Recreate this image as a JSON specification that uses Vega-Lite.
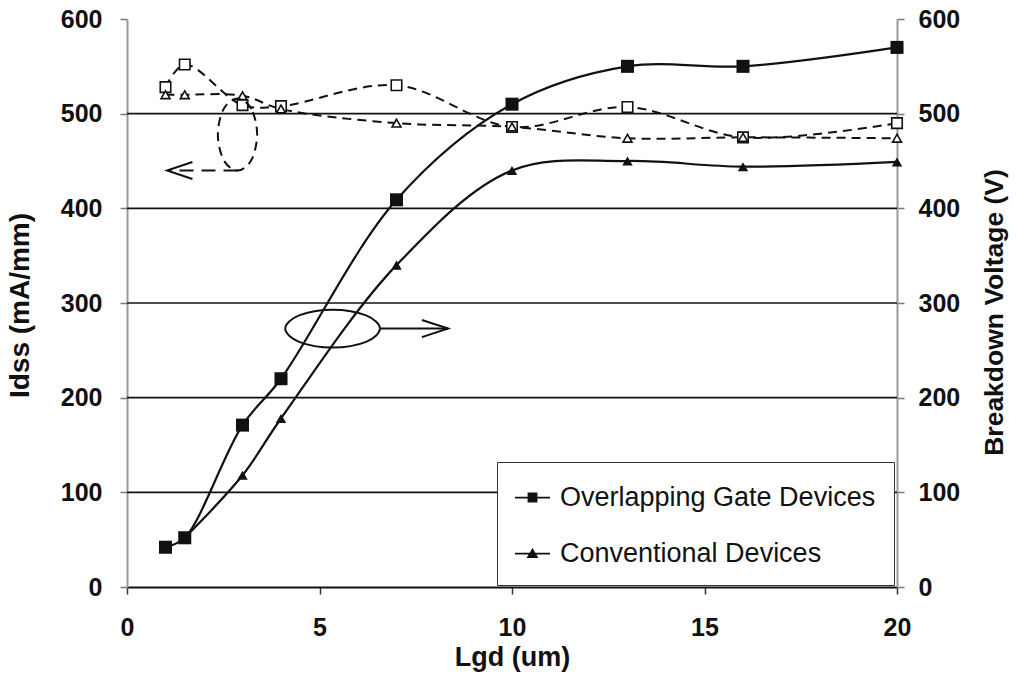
{
  "$schema": "https://vega.github.io/schema/vega-lite/v6.json",
  "width": 770,
  "height": 568,
  "autosize": {"type": "none"},
  "padding": {"left": 127, "top": 19, "right": 119, "bottom": 94},
  "background": "white",
  "config": {
    "view": {"stroke": null},
    "font": "Liberation Sans",
    "axis": {
      "labelFont": "Liberation Sans",
      "labelFontWeight": "bold",
      "labelFontSize": 25,
      "labelColor": "#111",
      "titleFont": "Liberation Sans",
      "titleFontWeight": "bold",
      "titleFontSize": 27,
      "titleColor": "#111",
      "grid": false,
      "tickSize": 7,
      "tickWidth": 1.5
    }
  },
  "datasets": {
    "idss": [
      {"series": "Overlapping Gate Devices", "x": 1, "y": 528},
      {"series": "Overlapping Gate Devices", "x": 1.5, "y": 552},
      {"series": "Overlapping Gate Devices", "x": 3, "y": 509},
      {"series": "Overlapping Gate Devices", "x": 4, "y": 508},
      {"series": "Overlapping Gate Devices", "x": 7, "y": 530},
      {"series": "Overlapping Gate Devices", "x": 10, "y": 486},
      {"series": "Overlapping Gate Devices", "x": 13, "y": 507},
      {"series": "Overlapping Gate Devices", "x": 16, "y": 475},
      {"series": "Overlapping Gate Devices", "x": 20, "y": 490},
      {"series": "Conventional Devices", "x": 1, "y": 520},
      {"series": "Conventional Devices", "x": 1.5, "y": 520},
      {"series": "Conventional Devices", "x": 3, "y": 519},
      {"series": "Conventional Devices", "x": 4, "y": 505},
      {"series": "Conventional Devices", "x": 7, "y": 490},
      {"series": "Conventional Devices", "x": 10, "y": 486},
      {"series": "Conventional Devices", "x": 13, "y": 474},
      {"series": "Conventional Devices", "x": 16, "y": 475},
      {"series": "Conventional Devices", "x": 20, "y": 474}
    ],
    "bv": [
      {"series": "Overlapping Gate Devices", "x": 1, "y": 42},
      {"series": "Overlapping Gate Devices", "x": 1.5, "y": 52},
      {"series": "Overlapping Gate Devices", "x": 3, "y": 171},
      {"series": "Overlapping Gate Devices", "x": 4, "y": 220},
      {"series": "Overlapping Gate Devices", "x": 7, "y": 409},
      {"series": "Overlapping Gate Devices", "x": 10, "y": 510},
      {"series": "Overlapping Gate Devices", "x": 13, "y": 550},
      {"series": "Overlapping Gate Devices", "x": 16, "y": 550},
      {"series": "Overlapping Gate Devices", "x": 20, "y": 570},
      {"series": "Conventional Devices", "x": 1.5, "y": 52},
      {"series": "Conventional Devices", "x": 3, "y": 118},
      {"series": "Conventional Devices", "x": 4, "y": 178},
      {"series": "Conventional Devices", "x": 7, "y": 340},
      {"series": "Conventional Devices", "x": 10, "y": 440},
      {"series": "Conventional Devices", "x": 13, "y": 450},
      {"series": "Conventional Devices", "x": 16, "y": 444},
      {"series": "Conventional Devices", "x": 20, "y": 449}
    ],
    "grid": [{"y": 100}, {"y": 200}, {"y": 300}, {"y": 400}, {"y": 500}],
    "ellipseL": [
      {"o": 1, "x": 3.38, "y": 478},
      {"o": 2, "x": 3.23, "y": 505},
      {"o": 3, "x": 2.87, "y": 516},
      {"o": 4, "x": 2.51, "y": 505},
      {"o": 5, "x": 2.36, "y": 478},
      {"o": 6, "x": 2.51, "y": 451},
      {"o": 7, "x": 2.87, "y": 440},
      {"o": 8, "x": 3.23, "y": 451}
    ],
    "ellipseR": [
      {"o": 1, "x": 6.57, "y": 273},
      {"o": 2, "x": 6.21, "y": 287},
      {"o": 3, "x": 5.34, "y": 293},
      {"o": 4, "x": 4.47, "y": 287},
      {"o": 5, "x": 4.11, "y": 273},
      {"o": 6, "x": 4.47, "y": 259},
      {"o": 7, "x": 5.34, "y": 253},
      {"o": 8, "x": 6.21, "y": 259}
    ],
    "shaftL": [
      {"o": 1, "x": 2.87, "y": 440},
      {"o": 2, "x": 1.1, "y": 440}
    ],
    "solidArrows": [
      {"g": "headL", "o": 1, "x": 1.7, "y": 449},
      {"g": "headL", "o": 2, "x": 1.04, "y": 440},
      {"g": "headL", "o": 3, "x": 1.7, "y": 431},
      {"g": "shaftR", "o": 1, "x": 6.57, "y": 273},
      {"g": "shaftR", "o": 2, "x": 8.34, "y": 273},
      {"g": "headR", "o": 1, "x": 7.66, "y": 282},
      {"g": "headR", "o": 2, "x": 8.34, "y": 273},
      {"g": "headR", "o": 3, "x": 7.66, "y": 264}
    ]
  },
  "layer": [
    {
      "layer": [
        {
          "data": {"name": "grid"},
          "mark": {"type": "rule", "color": "#111", "strokeWidth": 1.6},
          "encoding": {
            "y": {"field": "y", "type": "quantitative", "scale": {"domain": [0, 600]},
              "axis": {"orient": "left", "title": "Idss (mA/mm)", "values": [0, 100, 200, 300, 400, 500, 600], "domainColor": "#9a9a9a", "domainWidth": 2, "tickColor": "#777", "labelPadding": 18, "titleX": -93, "titleY": 286, "titleFontSize": 28}}
          }
        },
        {
          "data": {"name": "idss"},
          "mark": {"type": "line", "color": "#111", "strokeWidth": 2, "strokeDash": [9, 6], "interpolate": "catmull-rom"},
          "encoding": {
            "x": {"field": "x", "type": "quantitative", "scale": {"domain": [0, 20]},
              "axis": {"title": "Lgd (um)", "values": [0, 5, 10, 15, 20], "domainColor": "#111", "domainWidth": 2, "tickColor": "#333", "labelPadding": 21, "titleY": 57, "labelFlush": false}},
            "y": {"field": "y", "type": "quantitative", "scale": {"domain": [0, 600]}},
            "detail": {"field": "series"}
          }
        },
        {
          "data": {"name": "idss"},
          "mark": {"type": "point", "filled": false, "fill": "white", "fillOpacity": 1, "stroke": "#111", "strokeWidth": 1.6, "opacity": 1},
          "encoding": {
            "x": {"field": "x", "type": "quantitative"},
            "y": {"field": "y", "type": "quantitative"},
            "shape": {"field": "series", "type": "nominal", "scale": {"domain": ["Overlapping Gate Devices", "Conventional Devices"], "range": ["square", "triangle-up"]}, "legend": null},
            "size": {"field": "series", "type": "nominal", "scale": {"domain": ["Overlapping Gate Devices", "Conventional Devices"], "range": [110, 80]}, "legend": null}
          }
        },
        {
          "data": {"name": "ellipseL"},
          "mark": {"type": "line", "color": "#111", "strokeWidth": 2, "strokeDash": [9, 6], "interpolate": "cardinal-closed"},
          "encoding": {
            "x": {"field": "x", "type": "quantitative"},
            "y": {"field": "y", "type": "quantitative"},
            "order": {"field": "o"}
          }
        },
        {
          "data": {"name": "shaftL"},
          "mark": {"type": "line", "color": "#111", "strokeWidth": 2, "strokeDash": [14, 8]},
          "encoding": {
            "x": {"field": "x", "type": "quantitative"},
            "y": {"field": "y", "type": "quantitative"},
            "order": {"field": "o"}
          }
        },
        {
          "data": {"name": "solidArrows"},
          "mark": {"type": "line", "color": "#111", "strokeWidth": 2},
          "encoding": {
            "x": {"field": "x", "type": "quantitative"},
            "y": {"field": "y", "type": "quantitative"},
            "detail": {"field": "g"},
            "order": {"field": "o"}
          }
        }
      ]
    },
    {
      "layer": [
        {
          "data": {"name": "bv"},
          "mark": {"type": "line", "color": "#111", "strokeWidth": 2.2, "interpolate": "catmull-rom"},
          "encoding": {
            "x": {"field": "x", "type": "quantitative"},
            "y": {"field": "y", "type": "quantitative", "scale": {"domain": [0, 600]},
              "axis": {"orient": "right", "title": "Breakdown Voltage (V)", "values": [0, 100, 200, 300, 400, 500, 600], "domainColor": "#9a9a9a", "domainWidth": 2, "tickColor": "#777", "labelPadding": 14, "titleAngle": 270, "titleBaseline": "bottom", "titleX": 111, "titleY": 293, "titleFontSize": 26.5}},
            "detail": {"field": "series"}
          }
        },
        {
          "data": {"name": "ellipseR"},
          "mark": {"type": "line", "color": "#111", "strokeWidth": 2, "interpolate": "cardinal-closed"},
          "encoding": {
            "x": {"field": "x", "type": "quantitative"},
            "y": {"field": "y", "type": "quantitative"},
            "order": {"field": "o"}
          }
        },
        {
          "data": {"name": "bv"},
          "mark": {"type": "point", "filled": true, "color": "#111", "opacity": 1},
          "encoding": {
            "x": {"field": "x", "type": "quantitative"},
            "y": {"field": "y", "type": "quantitative"},
            "shape": {"field": "series", "type": "nominal", "scale": {"domain": ["Overlapping Gate Devices", "Conventional Devices"], "range": ["square", "triangle-up"]}, "legend": null},
            "size": {"field": "series", "type": "nominal", "scale": {"domain": ["Overlapping Gate Devices", "Conventional Devices"], "range": [170, 110]}, "legend": null}
          }
        },
        {
          "data": {"name": "bv"},
          "mark": {"type": "point", "filled": true, "color": "#111", "opacity": 0},
          "encoding": {
            "x": {"field": "x", "type": "quantitative"},
            "y": {"field": "y", "type": "quantitative"},
            "shape": {"field": "series", "type": "nominal",
              "scale": {"domain": ["Overlapping Gate Devices", "Conventional Devices"], "range": ["M-1,-0.05H1V0.05H-1ZM-0.28,-0.28H0.28V0.28H-0.28Z", "M-1,-0.05H1V0.05H-1ZM0,-0.32L0.34,0.26H-0.34Z"]},
              "legend": {
                "title": null,
                "orient": "none",
                "legendX": 370,
                "legendY": 443,
                "direction": "vertical",
                "padding": 18,
                "rowPadding": 25,
                "symbolSize": 1225,
                "symbolStrokeWidth": 0,
                "symbolFillColor": "#111",
                "symbolOpacity": 1,
                "labelFont": "Liberation Sans",
                "labelFontSize": 27,
                "labelColor": "#111",
                "labelOffset": 10,
                "labelLimit": 400,
                "strokeColor": "#333",
                "fillColor": "white",
                "encode": {"symbols": {"update": {"opacity": {"value": 1}, "fill": {"value": "#111"}, "fillOpacity": {"value": 1}}}}
              }
            }
          }
        }
      ],
      "resolve": {"scale": {"shape": "independent", "size": "independent"}}
    }
  ],
  "resolve": {"scale": {"y": "independent", "shape": "independent", "size": "independent"}}
}
